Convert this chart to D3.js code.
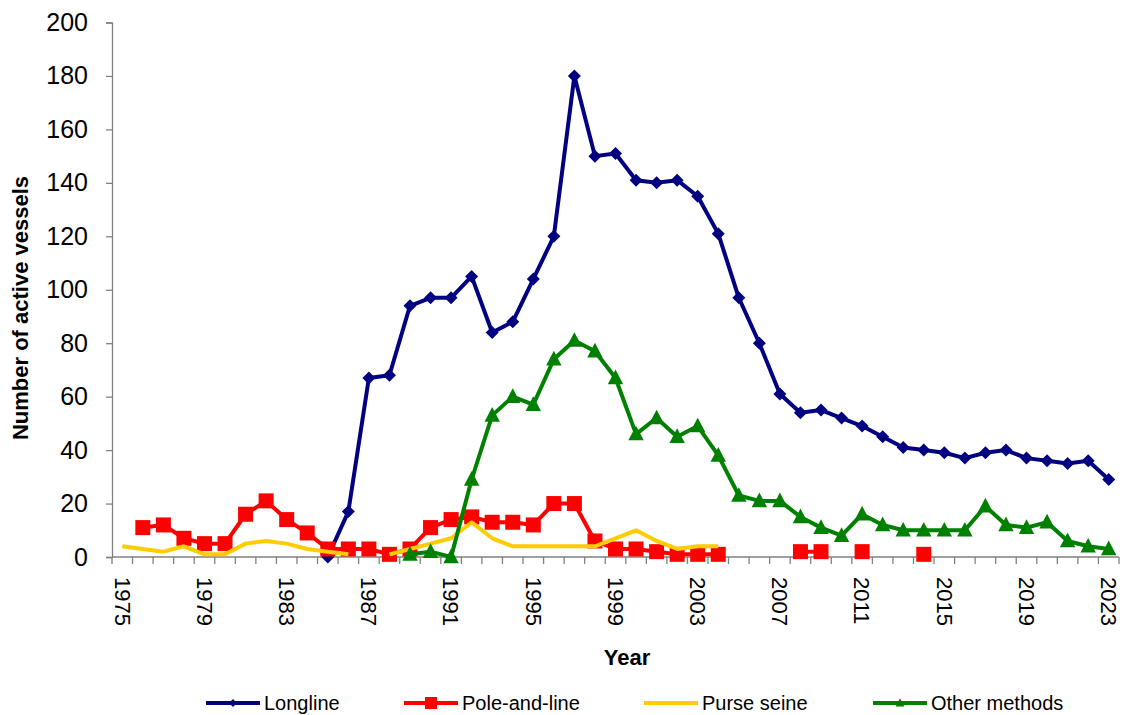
<!DOCTYPE html>
<html><head><meta charset="utf-8">
<script src="https://cdn.jsdelivr.net/npm/d3@7"></script>
<style>body{margin:0;background:#fff}svg{display:block}text{font-family:Arial,"Liberation Sans",sans-serif}</style>
</head><body>
<svg id="c" width="1126" height="715"></svg>
<script>
const years = d3.range(1975, 2024);
const tickYears = [1975,1979,1983,1987,1991,1995,1999,2003,2007,2011,2015,2019,2023];
const yTicks = [0,20,40,60,80,100,120,140,160,180,200];
const _ = null;
// values per year 1975..2023
const longline = [_,_,_,_,_,_,_,_,_,_,0,17,67,68,94,97,97,105,84,88,104,120,180,150,151,141,140,141,135,121,97,80,61,54,55,52,49,45,41,40,39,37,39,40,37,36,35,36,29];
const poleAndLine = [_,11,12,7,5,5,16,21,14,9,3,3,3,1,3,11,14,15,13,13,12,20,20,6,3,3,2,1,1,1,_,_,_,2,2,_,2,_,_,1,_,_,_,_,_,_,_,_,_];
const purseSeine = [4,3,2,4,1,1,5,6,5,3,2,1,_,1,3,5,7,13,7,4,4,4,4,4,7,10,6,3,4,4,_,_,_,_,_,_,_,_,_,_,_,_,_,_,_,_,_,_,_];
const otherMethods = [_,_,_,_,_,_,_,_,_,_,_,_,_,_,1,2,0,29,53,60,57,74,81,77,67,46,52,45,49,38,23,21,21,15,11,8,16,12,10,10,10,10,19,12,11,13,6,4,3];
const seriesNames = ["Longline","Pole-and-line","Purse seine","Other methods"];

const series = [
  {name:seriesNames[0], values:longline, color:"#000080", marker:"diamond"},
  {name:seriesNames[1], values:poleAndLine, color:"#FF0000", marker:"square"},
  {name:seriesNames[2], values:purseSeine, color:"#FFCC00", marker:null},
  {name:seriesNames[3], values:otherMethods, color:"#008000", marker:"triangle"}
];

const svg = d3.select("#c");
const x = d3.scaleBand().domain(years).range([112,1119]).padding(0);
const y = d3.scaleLinear().domain([0,200]).range([557,22.5]);
const axisColor = "#808080";

// Y axis
const gy = svg.append("g").attr("transform","translate(112,0)")
  .call(d3.axisLeft(y).tickValues(yTicks).tickSize(6).tickPadding(18));
gy.select(".domain").attr("stroke",axisColor).attr("stroke-width",1.3);
gy.selectAll(".tick line").attr("stroke",axisColor).attr("stroke-width",1.3);
gy.selectAll(".tick text").attr("font-size",25).attr("fill","#000").attr("font-family","Arial, 'Liberation Sans'");

// X axis: ticks at band boundaries
const gx = svg.append("g").attr("transform","translate(0,557)");
gx.append("line").attr("x1",112).attr("x2",1119).attr("y1",0).attr("y2",0).attr("stroke",axisColor).attr("stroke-width",1.3);
const bounds = years.map(d=>x(d)).concat([x(2023)+x.bandwidth()]);
gx.selectAll("line.tk").data(bounds).enter().append("line").attr("class","tk")
  .attr("x1",d=>d).attr("x2",d=>d).attr("y1",0).attr("y2",7).attr("stroke",axisColor).attr("stroke-width",1.3);
gx.selectAll("text.lb").data(tickYears).enter().append("text").attr("class","lb")
  .attr("transform",d=>`translate(${x(d)+x.bandwidth()/2},${20}) rotate(90)`)
  .attr("dy","0.35em").attr("font-size",22).attr("text-anchor","start").text(d=>d);

// titles
svg.append("text").attr("x",627).attr("y",665).attr("text-anchor","middle").attr("font-size",22).attr("font-weight","bold").text("Year");
svg.append("text").attr("transform","translate(28,308) rotate(-90)").attr("text-anchor","middle").attr("font-size",22).attr("font-weight","bold").text("Number of active vessels");

function markerPath(type, s){
  if(type==="diamond") return `M0,${-s*0.5}L${s*0.5},0L0,${s*0.5}L${-s*0.5},0Z`;
  if(type==="square") return `M${-s/2},${-s/2}h${s}v${s}h${-s}Z`;
  if(type==="triangle") return `M0,${-s*0.6}L${s*0.55},${s*0.45}L${-s*0.55},${s*0.45}Z`;
  return "";
}
const cx = d=>x(d.year)+x.bandwidth()/2;
const line = d3.line().defined(d=>d.v!=null).x(cx).y(d=>y(d.v));
const markerSize = {diamond:13, square:15, triangle:14};

series.forEach(s=>{
  const data = years.map((yr,i)=>({year:yr, v:s.values[i]}));
  const g = svg.append("g");
  g.append("path").datum(data).attr("d",line).attr("fill","none").attr("stroke",s.color).attr("stroke-width",4).attr("stroke-linejoin","round");
  if(s.marker){
    g.selectAll("path.m").data(data.filter(d=>d.v!=null)).enter().append("path").attr("class","m")
      .attr("transform",d=>`translate(${cx(d)},${y(d.v)})`).attr("d",markerPath(s.marker, markerSize[s.marker])).attr("fill",s.color);
  }
});

// legend
const legX = [206,404,644,873];
const lg = svg.append("g");
series.forEach((s,i)=>{
  const g = lg.append("g").attr("transform",`translate(${legX[i]},703)`);
  g.append("line").attr("x1",0).attr("x2",54).attr("stroke",s.color).attr("stroke-width",4);
  if(s.marker) g.append("path").attr("transform","translate(27,0)").attr("d",markerPath(s.marker, s.marker==="square"?12:8)).attr("fill",s.color);
  g.append("text").attr("x",58).attr("dy","0.35em").attr("font-size",20).text(s.name);
});
</script>
</body></html>
